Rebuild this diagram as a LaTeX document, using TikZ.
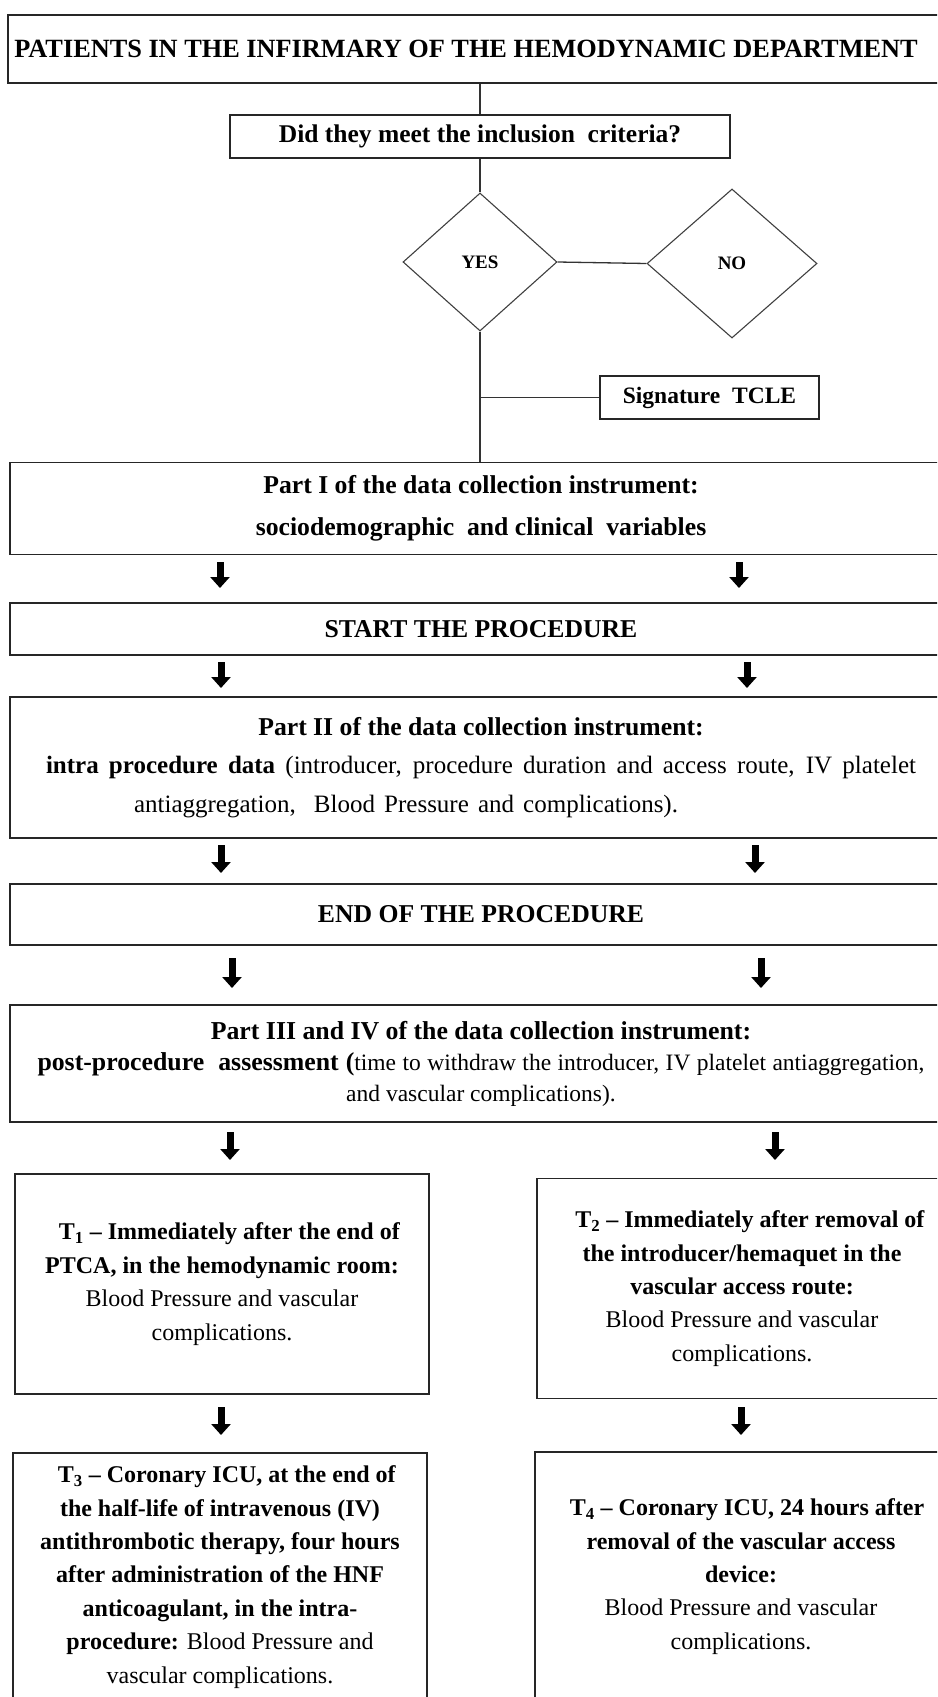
\documentclass[tikz,border=0pt]{standalone}
\usepackage{fontspec}
\setmainfont{Liberation Serif}
\usetikzlibrary{arrows.meta,shapes.geometric}
\tikzset{
  box/.style={draw=black!85, line width=1.6pt, inner sep=0pt, align=center},
  wide/.style={minimum width=942pt},
  dia/.style={draw=black!75, line width=1.1pt, shape=diamond, inner sep=0pt,
              font=\bfseries\fontsize{19}{22}\selectfont},
  conn/.style={draw=black!80, line width=1.3pt},
  arr/.style={draw=black, line width=7pt, -{Triangle[width=19pt,length=11pt]}},
  head/.style={font=\bfseries\fontsize{25.7}{42}\selectfont},
  tbox/.style={box, line width=1.4pt, font=\fontsize{24}{33.4}\selectfont},
}
\begin{document}
\begin{tikzpicture}[x=1pt,y=-1pt]
\clip (0,0) rectangle (937,1697);
\fill[white] (0,0) rectangle (937,1697);

% top part
\node[box, minimum width=940pt, minimum height=68pt,
      font=\bfseries\fontsize{26.3}{30}\selectfont] (title) at (478,49)
  {\hspace*{-24pt}PATIENTS IN THE INFIRMARY OF THE HEMODYNAMIC DEPARTMENT};
\node[box, line width=1.3pt, minimum width=500pt, minimum height=43pt,
      font=\bfseries\fontsize{25.5}{30}\selectfont] (q) at (480,136.5)
  {Did they meet the inclusion\ \ criteria?};
\node[dia, minimum width=154pt, minimum height=138pt] (yes) at (480,262) {YES};
\node[dia, minimum width=170pt, minimum height=149pt] (no) at (732,263.5) {NO};
\node[box, line width=1.3pt, minimum width=219pt, minimum height=43pt,
      font=\bfseries\fontsize{23.5}{28}\selectfont] (sig) at (709.5,397.5)
  {Signature\ \ TCLE};

% wide boxes
\node[box, wide, head, minimum height=92pt] (p1) at (481,508.5)
  {Part I of the data collection instrument:\\
   sociodemographic\ \ and clinical\ \ variables};
\node[box, wide, head, minimum height=52pt] (start) at (481,629)
  {START THE PROCEDURE};
\node[box, wide, minimum height=141pt, font=\fontsize{25}{38.5}\selectfont] (p2) at (481,767.5)
  {\textbf{\fontsize{25.7}{38.5}\selectfont Part II of the data collection instrument:}\\
   \makebox[870pt][s]{\textbf{intra procedure data} (introducer, procedure duration and access route, IV platelet}\\
   \hspace*{-150pt}\makebox[544pt][s]{antiaggregation,\ \ Blood Pressure and complications).}};
\node[box, wide, head, minimum height=61pt] (endp) at (481,914.5)
  {END OF THE PROCEDURE};
\node[box, wide, minimum height=117pt, font=\fontsize{23.5}{31}\selectfont] (p3) at (481,1063.5)
  {\textbf{\fontsize{25.8}{31}\selectfont Part III and IV of the data collection instrument:}\\
   \makebox[887pt][s]{\textbf{\fontsize{25.8}{31}\selectfont post-procedure\ \ assessment (}time to withdraw the introducer, IV platelet antiaggregation,}\\
   and vascular complications).};

% time boxes
\node[tbox, minimum width=414pt, minimum height=220pt] (t1) at (222,1284)
  {\hspace*{15pt}\textbf{T\textsubscript{1} -- Immediately after the end of}\\
   \textbf{PTCA, in the hemodynamic room:}\\
   Blood Pressure and vascular\\
   complications.};
\node[tbox, minimum width=410pt, minimum height=220pt] (t2) at (742,1288.5)
  {\hspace*{16pt}\textbf{T\textsubscript{2} -- Immediately after removal of}\\
   \textbf{the introducer/hemaquet in the}\\
   \textbf{vascular access route:}\\
   Blood Pressure and vascular\\
   complications.};
\node[tbox, minimum width=414pt, minimum height=248pt] (t3) at (220,1577)
  {\hspace*{14pt}\textbf{T\textsubscript{3} -- Coronary ICU, at the end of}\\
   \textbf{the half-life of intravenous (IV)}\\
   \textbf{antithrombotic therapy, four hours}\\
   \textbf{after administration of the HNF}\\
   \textbf{anticoagulant, in the intra-}\\
   \textbf{procedure:} Blood Pressure and\\
   vascular complications.};
\node[tbox, minimum width=412pt, minimum height=249pt] (t4) at (741,1576.5)
  {\hspace*{12pt}\textbf{T\textsubscript{4} -- Coronary ICU, 24 hours after}\\
   \textbf{removal of the vascular access}\\
   \textbf{device:}\\
   Blood Pressure and vascular\\
   complications.};

% connectors
\draw[conn] (title.south -| q.north) -- (q.north);
\draw[conn] (q.south) -- (yes.north);
\draw[conn] (yes.east) -- (no.west);
\draw[conn] (yes.south) -- (yes.south |- p1.north);
\coordinate (br) at (yes.south |- sig.west);
\draw[conn] (br) -- (sig.west);

% block arrows
\coordinate (a1ls) at (220,562);  \coordinate (a1le) at (220,588);
\coordinate (a1rs) at (739,562);  \coordinate (a1re) at (739,588);
\coordinate (a2ls) at (221,662);  \coordinate (a2le) at (221,688);
\coordinate (a2rs) at (747,662);  \coordinate (a2re) at (747,688);
\coordinate (a3ls) at (221,845);  \coordinate (a3le) at (221,873);
\coordinate (a3rs) at (755,845);  \coordinate (a3re) at (755,873);
\coordinate (a4ls) at (232,958);  \coordinate (a4le) at (232,988);
\coordinate (a4rs) at (761,958);  \coordinate (a4re) at (761,988);
\coordinate (a5ls) at (230,1132); \coordinate (a5le) at (230,1160);
\coordinate (a5rs) at (775,1132); \coordinate (a5re) at (775,1160);
\coordinate (a6ls) at (221,1407); \coordinate (a6le) at (221,1435);
\coordinate (a6rs) at (741,1407); \coordinate (a6re) at (741,1435);
\foreach \n in {1,...,6}{
  \draw[arr] (a\n ls) -- (a\n le);
  \draw[arr] (a\n rs) -- (a\n re);
}
\end{tikzpicture}
\end{document}
